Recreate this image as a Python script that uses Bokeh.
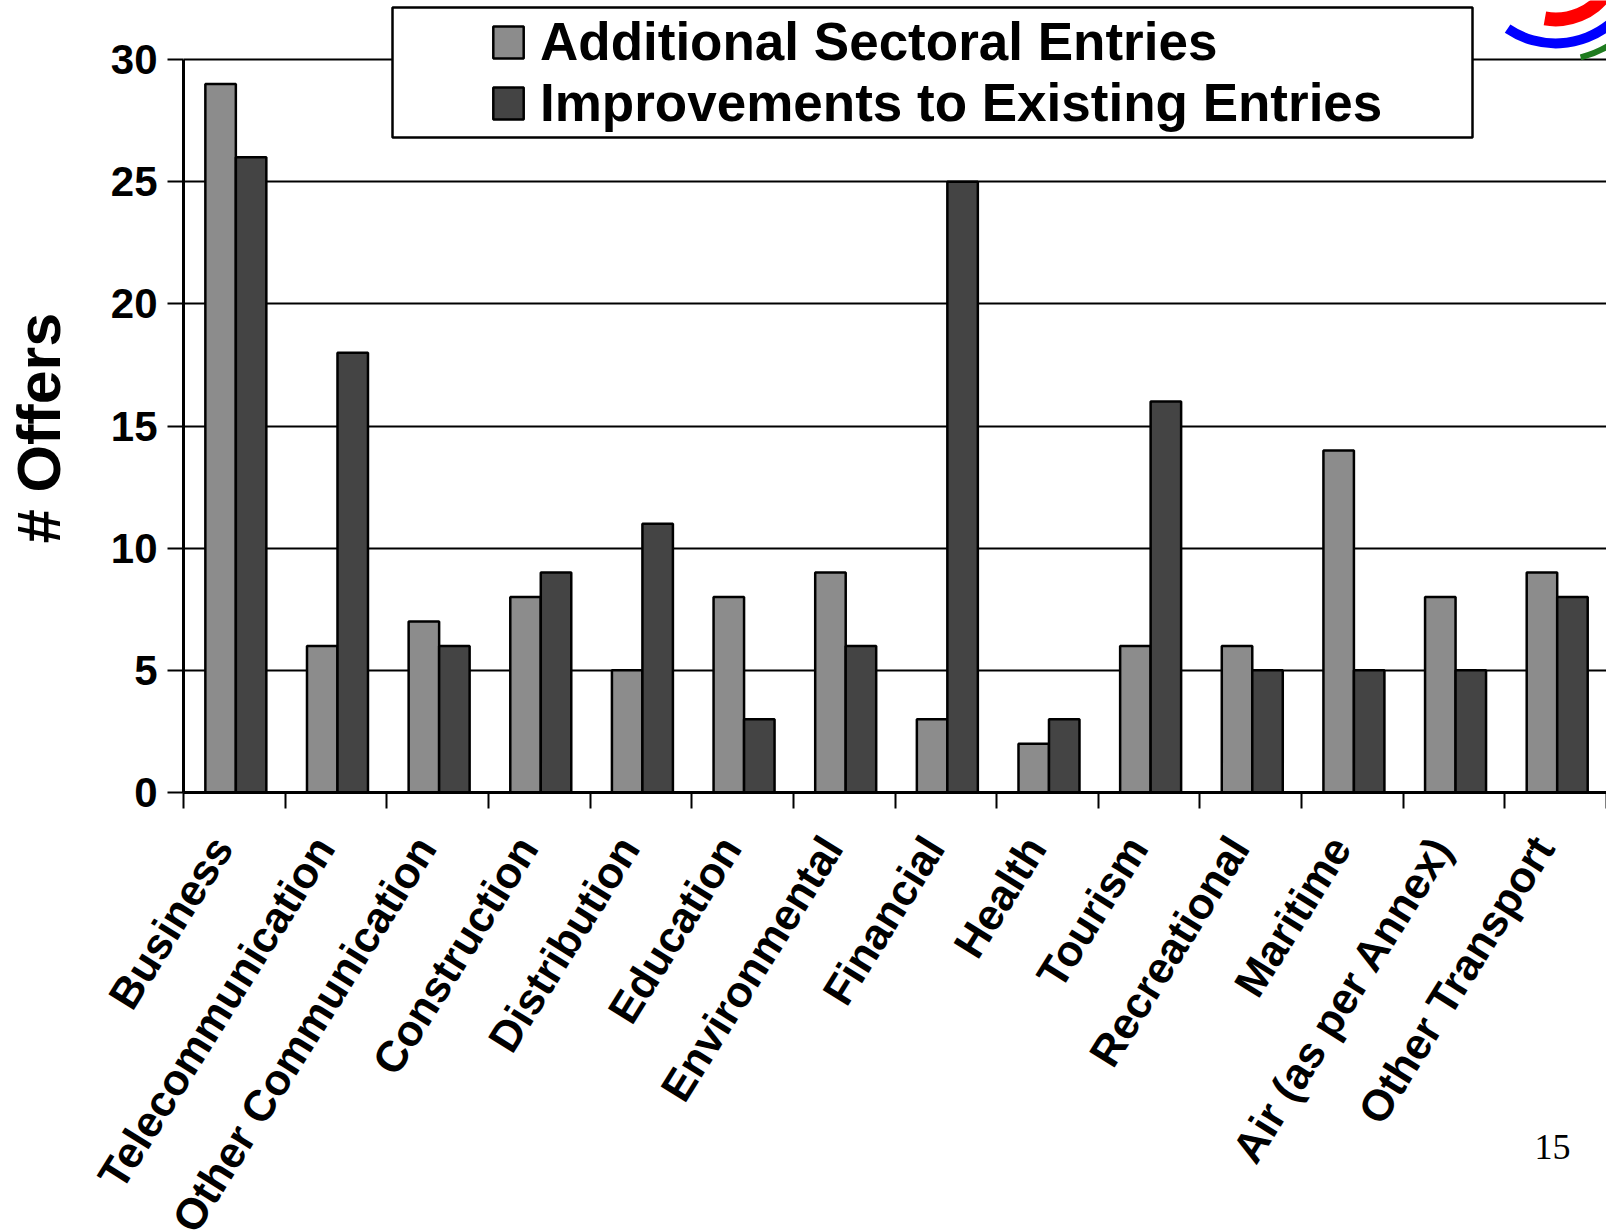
import math
import numpy as np
from bokeh.plotting import figure
from bokeh.models import (Range1d, FixedTicker, CustomJSTickFormatter, Legend, LegendItem,
                          BoxAnnotation, ColumnDataSource, AllLabels)
from bokeh.embed import file_html
from bokeh.resources import INLINE

# ---------------- data ----------------
categories = ["Business", "Telecommunication", "Other Communication", "Construction",
              "Distribution", "Education", "Environmental", "Financial", "Health",
              "Tourism", "Recreational", "Maritime", "Air (as per Annex)", "Other Transport"]
additional_entries = [29, 6, 7, 8, 5, 8, 9, 3, 2, 6, 6, 14, 8, 9]
improvements = [26, 18, 6, 9, 11, 3, 6, 25, 3, 16, 5, 5, 5, 8]
y_ticks = [0, 5, 10, 15, 20, 25, 30]
series_names = ["Additional Sectoral Entries", "Improvements to Existing Entries"]
y_title = "# Offers"
page_number = "15"

# ---------------- style ----------------
FONT = "Liberation Sans"
GRAY = "#8c8c8c"
DARK = "#444444"
NBSP = "\u00a0"

n = len(categories)
idx = np.arange(n)
bar_w = 0.3

src = ColumnDataSource(dict(x_add=idx + 0.365, x_imp=idx + 0.665,
                            add=additional_entries, imp=improvements))

p = figure(frame_width=1423, frame_height=792, output_backend="svg", toolbar_location=None,
           x_range=Range1d(0, n), y_range=Range1d(0, 32.415),
           min_border_left=183, min_border_right=0, min_border_top=0, min_border_bottom=440)
p.outline_line_color = None
p.background_fill_color = "white"
p.border_fill_color = "white"

r_add = p.vbar(x="x_add", top="add", bottom=0, width=bar_w, source=src,
               fill_color=GRAY, line_color="black", line_width=2.5)
r_imp = p.vbar(x="x_imp", top="imp", bottom=0, width=bar_w, source=src,
               fill_color=DARK, line_color="black", line_width=2.5)

# decorative logo (top right corner)
logo_x, logo_y = 13.5, 34.18
for r_in, r_out, a0, a1, col in [(55, 69, -100, -35, "#ff0000"),
                                 (81, 91, -124, -50, "#0000ff"),
                                 (100, 106, -76, -55, "#1e7b1e")]:
    p.annular_wedge(x=logo_x, y=logo_y, inner_radius=r_in, outer_radius=r_out,
                    inner_radius_units="screen", outer_radius_units="screen",
                    start_angle=math.radians(a0), end_angle=math.radians(a1),
                    fill_color=col, line_color=None)

# x axis: labels near category centres, tick marks at category boundaries
xa = p.xaxis[0]
xa.ticker = FixedTicker(ticks=list(idx + 0.38), minor_ticks=list(range(n + 1)))
xa.formatter = CustomJSTickFormatter(args=dict(names=categories),
                                     code="return names[Math.floor(tick)] || '';")
xa.major_label_policy = AllLabels()
xa.major_label_orientation = math.radians(58)
xa.major_label_text_font = FONT
xa.major_label_text_font_style = "bold"
xa.major_label_text_font_size = "43.5px"
xa.major_label_text_color = "black"
xa.major_label_standoff = 32
xa.major_tick_out = 0
xa.major_tick_in = 0
xa.minor_tick_out = 16
xa.minor_tick_in = 0
xa.minor_tick_line_color = "black"
xa.minor_tick_line_width = 2
xa.axis_line_color = "black"
xa.axis_line_width = 3
p.xgrid.visible = False

# slide page number, carried by the x axis title near the right end of the axis
try:
    xa.axis_label_align = "end"
    xa.axis_label = page_number + NBSP * 12
    xa.axis_label_text_font = "Liberation Serif"
    xa.axis_label_text_font_style = "normal"
    xa.axis_label_text_font_size = "36px"
    xa.axis_label_text_color = "black"
    xa.axis_label_standoff = -129
except (AttributeError, ValueError):
    xa.axis_label = None

ya = p.yaxis[0]
ya.ticker = FixedTicker(ticks=y_ticks)
ya.bounds = (0, 30)
ya.major_label_text_font = FONT
ya.major_label_text_font_style = "bold"
ya.major_label_text_font_size = "42px"
ya.major_label_text_color = "black"
ya.major_label_standoff = 10
ya.major_tick_out = 16
ya.major_tick_in = 0
ya.major_tick_line_color = "black"
ya.major_tick_line_width = 2
ya.minor_tick_line_color = None
ya.axis_line_color = "black"
ya.axis_line_width = 3
# y title: trailing no-break spaces centre the visible text on the 0-30 span
ya.axis_label = y_title + NBSP * 3 + "\u2009"
ya.axis_label_text_font = FONT
ya.axis_label_text_font_style = "bold"
ya.axis_label_text_font_size = "61px"
ya.axis_label_text_color = "black"
ya.axis_label_standoff = 35
p.ygrid.grid_line_color = "black"
p.ygrid.grid_line_width = 2

# legend frame + legend
p.add_layout(BoxAnnotation(left=209, right=1289, top=785, bottom=655,
                           left_units="screen", right_units="screen",
                           top_units="screen", bottom_units="screen",
                           fill_color="white", fill_alpha=1.0,
                           line_color="black", line_width=2.5, line_alpha=1.0))
legend = Legend(items=[LegendItem(label=series_names[0], renderers=[r_add]),
                       LegendItem(label=series_names[1], renderers=[r_imp])],
                location=(306, 659), orientation="vertical",
                padding=0, spacing=0, margin=0,
                border_line_color=None, background_fill_alpha=0,
                glyph_width=38, glyph_height=40, label_standoff=13, label_height=59,
                label_text_font=FONT, label_text_font_style="bold",
                label_text_font_size="53px", label_text_color="black")
p.add_layout(legend)

open("out.html", "w").write(file_html(p, INLINE))
